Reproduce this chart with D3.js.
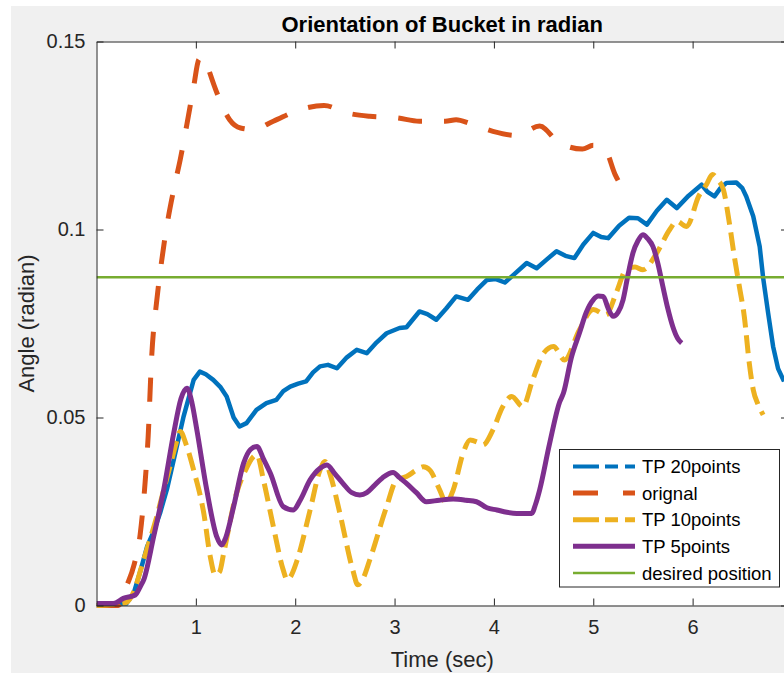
<!DOCTYPE html>
<html>
<head>
<meta charset="utf-8">
<script src="https://cdn.jsdelivr.net/npm/d3@7"></script>
<style>
  html, body { margin: 0; padding: 0; background: #ffffff; }
  svg { display: block; font-family: "Liberation Sans", Arial, Helvetica, sans-serif; }
</style>
</head>
<body>
<svg id="chart" width="784" height="675"></svg>
<script>
// ---- data: time (s) and bucket angle (rad) for each run ----
const timeTP20 = [0, 0.3, 0.374, 0.44, 0.51, 0.58, 0.64, 0.71, 0.777, 0.877, 0.978, 1.04, 1.1, 1.175, 1.25, 1.31, 1.38, 1.44, 1.51, 1.61, 1.71, 1.81, 1.88, 1.95, 2.03, 2.11, 2.18, 2.25, 2.33, 2.42, 2.52, 2.62, 2.72, 2.82, 2.92, 3.05, 3.12, 3.25, 3.33, 3.42, 3.52, 3.62, 3.74, 3.83, 3.93, 4.02, 4.11, 4.2, 4.33, 4.43, 4.53, 4.63, 4.72, 4.81, 4.9, 5.0, 5.08, 5.15, 5.26, 5.36, 5.45, 5.54, 5.64, 5.74, 5.84, 5.96, 6.09, 6.15, 6.22, 6.28, 6.34, 6.44, 6.5, 6.54, 6.61, 6.675, 6.71, 6.76, 6.81, 6.86, 6.92];
const angleTP20 = [0, 0.0005, 0.0032, 0.009, 0.0157, 0.02, 0.0246, 0.031, 0.0387, 0.0503, 0.06, 0.0622, 0.0615, 0.06, 0.058, 0.0556, 0.05, 0.0476, 0.0485, 0.052, 0.0538, 0.0547, 0.057, 0.0582, 0.059, 0.0596, 0.062, 0.0636, 0.064, 0.0631, 0.066, 0.068, 0.0671, 0.07, 0.0724, 0.0738, 0.074, 0.0782, 0.0775, 0.076, 0.079, 0.0822, 0.0813, 0.084, 0.0866, 0.0868, 0.0859, 0.088, 0.0911, 0.0897, 0.092, 0.0942, 0.093, 0.0924, 0.096, 0.0991, 0.098, 0.0977, 0.101, 0.1031, 0.103, 0.1013, 0.105, 0.1079, 0.1057, 0.109, 0.1119, 0.11, 0.1088, 0.111, 0.1124, 0.1125, 0.111, 0.1088, 0.1035, 0.0955, 0.0871, 0.0778, 0.0689, 0.063, 0.0596];

const timeOrig = [0, 0.22, 0.3, 0.38, 0.44, 0.49, 0.52, 0.555, 0.606, 0.64, 0.69, 0.78, 0.843, 0.91, 0.978, 1.03, 1.07, 1.1, 1.14, 1.24, 1.34, 1.45, 1.58, 1.78, 2.05, 2.29, 2.52, 2.75, 3.02, 3.25, 3.51, 3.62, 3.76, 3.99, 4.23, 4.46, 4.65, 4.89, 5.0, 5.12, 5.22, 5.32];
const angleOrig = [0, 0, 0.005, 0.011, 0.019, 0.033, 0.045, 0.066, 0.081, 0.0885, 0.098, 0.111, 0.1186, 0.128, 0.138, 0.1452, 0.1459, 0.145, 0.1417, 0.1345, 0.1292, 0.127, 0.1266, 0.1288, 0.1319, 0.133, 0.131, 0.1301, 0.1297, 0.1288, 0.1288, 0.1292, 0.1282, 0.1261, 0.125, 0.1275, 0.1232, 0.1214, 0.1224, 0.1212, 0.1146, 0.11];

const timeTP10 = [0, 0.3, 0.38, 0.45, 0.52, 0.6, 0.676, 0.75, 0.8, 0.843, 0.9, 0.978, 1.08, 1.145, 1.195, 1.24, 1.28, 1.41, 1.5, 1.58, 1.615, 1.68, 1.78, 1.88, 1.92, 1.96, 2.02, 2.15, 2.25, 2.3, 2.35, 2.45, 2.58, 2.63, 2.68, 2.75, 2.92, 3.02, 3.12, 3.22, 3.29, 3.355, 3.455, 3.52, 3.59, 3.69, 3.76, 3.83, 3.89, 3.99, 4.09, 4.18, 4.29, 4.39, 4.5, 4.6, 4.71, 4.86, 5.0, 5.13, 5.23, 5.33, 5.42, 5.5, 5.64, 5.77, 5.84, 5.94, 6.06, 6.14, 6.2, 6.26, 6.31, 6.37, 6.42, 6.47, 6.52, 6.57, 6.61, 6.66, 6.71];
const angleTP10 = [0, 0.0008, 0.004, 0.01, 0.016, 0.023, 0.0307, 0.038, 0.043, 0.0463, 0.043, 0.036, 0.0245, 0.013, 0.0081, 0.009, 0.0139, 0.0299, 0.036, 0.0396, 0.0401, 0.0334, 0.021, 0.0094, 0.0068, 0.008, 0.0121, 0.0254, 0.036, 0.0383, 0.035, 0.0245, 0.0094, 0.0055, 0.007, 0.0121, 0.0263, 0.0334, 0.0343, 0.036, 0.0369, 0.036, 0.0307, 0.0272, 0.0307, 0.0405, 0.044, 0.0435, 0.0427, 0.0467, 0.0529, 0.0556, 0.0529, 0.06, 0.0671, 0.0689, 0.0653, 0.0733, 0.0787, 0.0773, 0.0831, 0.0893, 0.09, 0.0893, 0.0938, 0.1, 0.1022, 0.1008, 0.1088, 0.112, 0.1146, 0.113, 0.1106, 0.1017, 0.0928, 0.0849, 0.0769, 0.0645, 0.0574, 0.0534, 0.0507];

const timeTP5 = [0, 0.17, 0.27, 0.39, 0.44, 0.475, 0.575, 0.676, 0.777, 0.85, 0.91, 0.96, 1.01, 1.11, 1.21, 1.26, 1.3, 1.38, 1.48, 1.55, 1.615, 1.68, 1.75, 1.88, 1.98, 2.05, 2.15, 2.25, 2.32, 2.4, 2.48, 2.57, 2.65, 2.72, 2.785, 2.88, 2.985, 3.05, 3.12, 3.22, 3.32, 3.45, 3.59, 3.72, 3.825, 3.93, 4.03, 4.13, 4.23, 4.38, 4.42, 4.46, 4.56, 4.66, 4.7, 4.78, 4.86, 4.93, 5.0, 5.05, 5.1, 5.15, 5.2, 5.25, 5.3, 5.35, 5.4, 5.45, 5.5, 5.55, 5.6, 5.65, 5.7, 5.75, 5.8, 5.85, 5.89];
const angleTP5 = [0.0005, 0.0005, 0.0019, 0.0028, 0.005, 0.0068, 0.0183, 0.0307, 0.0458, 0.055, 0.0578, 0.054, 0.0467, 0.0307, 0.0183, 0.0161, 0.018, 0.0263, 0.0378, 0.0415, 0.0423, 0.039, 0.0352, 0.0263, 0.0254, 0.028, 0.0334, 0.0365, 0.0374, 0.035, 0.0325, 0.03, 0.0294, 0.03, 0.0316, 0.034, 0.0354, 0.034, 0.0325, 0.03, 0.0276, 0.028, 0.0283, 0.028, 0.0276, 0.026, 0.0254, 0.0248, 0.0245, 0.0245, 0.027, 0.0307, 0.043, 0.054, 0.0565, 0.066, 0.0724, 0.078, 0.0813, 0.0823, 0.0822, 0.079, 0.0769, 0.078, 0.0813, 0.088, 0.0938, 0.097, 0.0986, 0.0975, 0.0955, 0.091, 0.0849, 0.079, 0.0742, 0.071, 0.0698];

const desiredAngle = 0.0873;

const xTicks = [1, 2, 3, 4, 5, 6];
const yTicks = [0, 0.05, 0.1, 0.15];
const yTickLabels = ["0", "0.05", "0.1", "0.15"];
const legendLabels = ["TP 20points", "orignal", "TP 10points", "TP 5points", "desired position"];

// ---- layout ----
const W = 784, H = 675;
const plot = { left: 96.5, right: 788, top: 41.5, bottom: 605.5 };
const ink = "#262626";

const svg = d3.select("#chart");

// figure background
svg.append("rect").attr("x", 11).attr("y", 6).attr("width", W - 11).attr("height", 667).attr("fill", "#f0f0f0");
// axes background
svg.append("rect").attr("x", plot.left).attr("y", plot.top)
  .attr("width", plot.right - plot.left).attr("height", plot.bottom - plot.top).attr("fill", "#ffffff");

const x = d3.scaleLinear().domain([0, 6.96]).range([plot.left, plot.right]);
const y = d3.scaleLinear().domain([0, 0.15]).range([plot.bottom, plot.top]);

svg.append("defs").append("clipPath").attr("id", "plotClip")
  .append("rect").attr("x", plot.left).attr("y", plot.top - 4)
  .attr("width", plot.right - plot.left).attr("height", plot.bottom - plot.top + 8);

const lines = svg.append("g").attr("clip-path", "url(#plotClip)");

function zipSeries(ts, vs) { return ts.map((t, i) => [t, vs[i]]); }

const lineLinear = d3.line().x(d => x(d[0])).y(d => y(d[1]));
const lineSmooth = d3.line().x(d => x(d[0])).y(d => y(d[1])).curve(d3.curveMonotoneX);

const series = [
  { key: "tp20", data: zipSeries(timeTP20, angleTP20), color: "#0072BD", width: 4.5, dash: null, gen: lineLinear },
  { key: "orig", data: zipSeries(timeOrig, angleOrig), color: "#D95319", width: 5, dash: "24,22", gen: lineSmooth },
  { key: "tp10", data: zipSeries(timeTP10, angleTP10), color: "#EDB120", width: 5, dash: "18,8", gen: lineSmooth },
  { key: "tp5", data: zipSeries(timeTP5, angleTP5), color: "#7E2F8E", width: 5, dash: null, gen: lineSmooth }
];

series.forEach(s => {
  lines.append("path")
    .attr("d", s.gen(s.data))
    .attr("fill", "none")
    .attr("stroke", s.color)
    .attr("stroke-width", s.width)
    .attr("stroke-linejoin", "round")
    .attr("stroke-dasharray", s.dash);
});

// desired position reference line
lines.append("line")
  .attr("x1", plot.left).attr("x2", plot.right)
  .attr("y1", y(desiredAngle)).attr("y2", y(desiredAngle))
  .attr("stroke", "#77AC30").attr("stroke-width", 2.5);

// ---- axes (ticks point inward, box on) ----
const tickLen = 7;
const axisBottom = d3.axisBottom(x).tickValues(xTicks).tickFormat(d3.format("d")).tickSizeInner(-tickLen).tickSizeOuter(0).tickPadding(14);
const axisTop = d3.axisTop(x).tickValues(xTicks).tickFormat("").tickSizeInner(-tickLen).tickSizeOuter(0);
const axisLeft = d3.axisLeft(y).tickValues(yTicks).tickFormat((d, i) => yTickLabels[i]).tickSizeInner(-tickLen).tickSizeOuter(0).tickPadding(11);
const axisRight = d3.axisRight(y).tickValues(yTicks).tickFormat("").tickSizeInner(-tickLen).tickSizeOuter(0);

function styleAxis(g) {
  g.selectAll(".domain").attr("stroke", ink).attr("stroke-width", 1);
  g.selectAll(".tick line").attr("stroke", ink).attr("stroke-width", 1);
  g.selectAll(".tick text").attr("fill", ink).attr("font-size", 20)
    .attr("font-family", "'Liberation Sans', Arial, Helvetica, sans-serif");
}

svg.append("g").attr("transform", `translate(0,${plot.bottom})`).call(axisBottom).call(styleAxis);
svg.append("g").attr("transform", `translate(0,${plot.top})`).call(axisTop).call(styleAxis);
svg.append("g").attr("transform", `translate(${plot.left},0)`).call(axisLeft).call(styleAxis);
svg.append("g").attr("transform", `translate(${plot.right},0)`).call(axisRight).call(styleAxis);

// ---- title and axis labels ----
const cx = (plot.left + plot.right) / 2;
svg.append("text").attr("x", cx).attr("y", 32).attr("text-anchor", "middle")
  .attr("font-size", 22).attr("font-weight", "bold").attr("fill", "#000")
  .text("Orientation of Bucket in radian");

svg.append("text").attr("x", cx).attr("y", 667).attr("text-anchor", "middle")
  .attr("font-size", 22).attr("fill", ink).text("Time (sec)");

svg.append("text")
  .attr("transform", `translate(34,${(plot.top + plot.bottom) / 2}) rotate(-90)`)
  .attr("text-anchor", "middle").attr("font-size", 22).attr("fill", ink)
  .text("Angle (radian)");

// ---- legend ----
const legend = svg.append("g");
legend.append("rect").attr("x", 559.5).attr("y", 449.5).attr("width", 220).attr("height", 137.5)
  .attr("fill", "#ffffff").attr("stroke", ink).attr("stroke-width", 1);

const legendStyles = [
  { color: "#0072BD", width: 4, dash: "26,6,13,7,13" },
  { color: "#D95319", width: 5, dash: "25,25,12" },
  { color: "#EDB120", width: 5, dash: "26,6,13,7,13" },
  { color: "#7E2F8E", width: 5, dash: null },
  { color: "#77AC30", width: 2.5, dash: null }
];

legendLabels.forEach((label, i) => {
  const ry = 466.5 + i * 26.6;
  legend.append("line").attr("x1", 573).attr("x2", 635).attr("y1", ry).attr("y2", ry)
    .attr("stroke", legendStyles[i].color).attr("stroke-width", legendStyles[i].width)
    .attr("stroke-dasharray", legendStyles[i].dash);
  legend.append("text").attr("x", 642).attr("y", ry).attr("dy", "0.36em")
    .attr("font-size", 18.5).attr("fill", "#000").text(label);
});
</script>
</body>
</html>
